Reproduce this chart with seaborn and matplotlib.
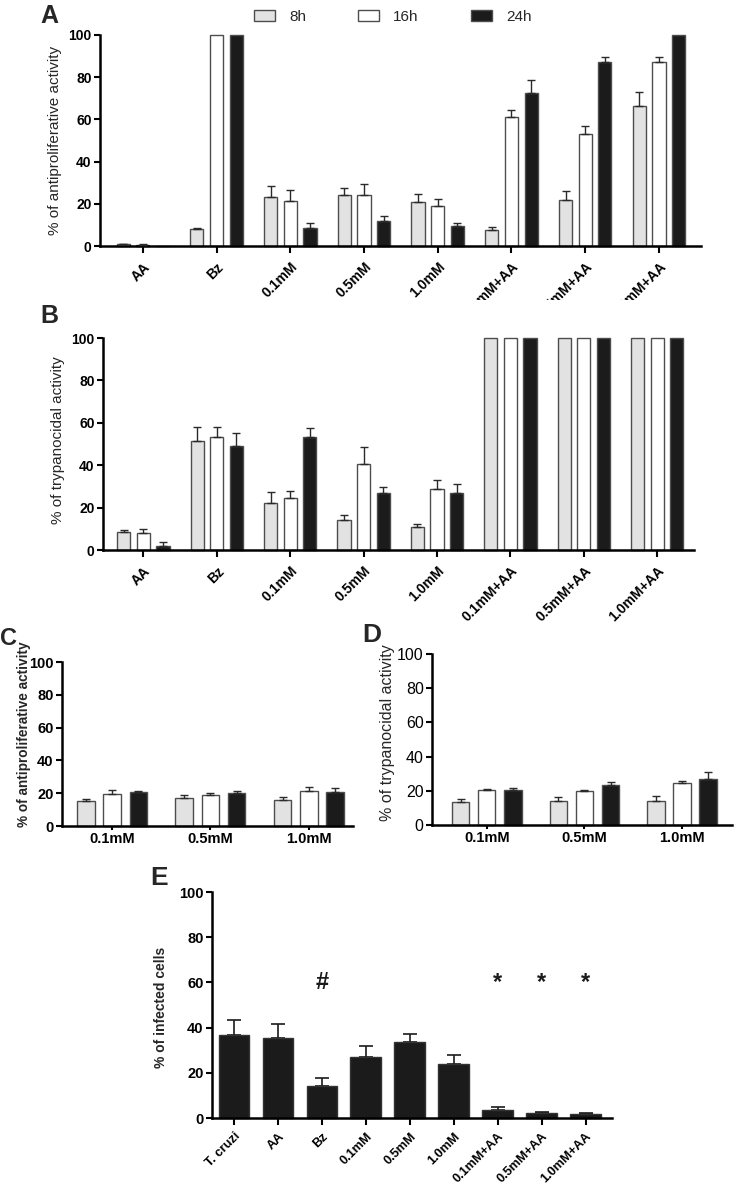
import numpy as np
import pandas as pd
import matplotlib
matplotlib.use('Agg')
import matplotlib.pyplot as plt
import seaborn as sns
from matplotlib.transforms import Bbox, TransformedBbox
from matplotlib.patches import Patch

sns.set_theme(style='ticks')
plt.rcParams['font.family'] = ['Liberation Sans', 'DejaVu Sans']

NARROW = ['Liberation Sans Narrow', 'Liberation Sans', 'DejaVu Sans']

times = ['8h', '16h', '24h']
cats_ab = ['AA', 'Bz', '0.1mM', '0.5mM', '1.0mM', '0.1mM+AA', '0.5mM+AA', '1.0mM+AA']

# Panel A: antiproliferative activity
a_8h = [0.8, 8.0, 23.0, 24.0, 21.0, 7.5, 22.0, 66.5]
a_16h = [0.7, 100.0, 21.5, 24.0, 19.0, 61.0, 53.0, 87.0]
a_24h = [0.0, 100.0, 8.5, 12.0, 9.5, 72.5, 87.0, 100.0]
a_8h_err = [0.3, 0.5, 5.5, 3.5, 3.6, 1.3, 4.2, 6.5]
a_16h_err = [0.2, 0.0, 5.0, 5.5, 3.3, 3.3, 3.8, 2.5]
a_24h_err = [0.0, 0.0, 2.2, 2.0, 1.2, 6.3, 2.8, 0.0]

# Panel B: trypanocidal activity
b_8h = [8.7, 51.3, 22.2, 14.2, 10.9, 100.0, 100.0, 100.0]
b_16h = [7.8, 53.2, 24.5, 40.7, 28.6, 100.0, 100.0, 100.0]
b_24h = [2.0, 49.0, 53.5, 26.7, 26.7, 100.0, 100.0, 100.0]
b_8h_err = [0.8, 6.8, 5.0, 2.3, 1.5, 0.0, 0.0, 0.0]
b_16h_err = [2.3, 5.0, 3.3, 8.0, 4.2, 0.0, 0.0, 0.0]
b_24h_err = [2.0, 6.2, 4.0, 3.2, 4.5, 0.0, 0.0, 0.0]

cats_cd = ['0.1mM', '0.5mM', '1.0mM']
# Panel C: antiproliferative activity
c_8h = [15.2, 17.0, 16.0]
c_16h = [19.7, 18.7, 21.5]
c_24h = [20.7, 20.0, 20.7]
c_8h_err = [1.0, 1.6, 1.4]
c_16h_err = [2.0, 1.6, 2.3]
c_24h_err = [0.8, 1.3, 2.5]

# Panel D: trypanocidal activity
d_8h = [13.5, 14.2, 14.2]
d_16h = [20.3, 20.0, 24.3]
d_24h = [20.2, 23.2, 26.7]
d_8h_err = [1.6, 2.4, 2.8]
d_16h_err = [1.0, 0.3, 1.5]
d_24h_err = [1.6, 2.0, 4.4]

# Panel E: infected cells
cats_e = ['T. cruzi', 'AA', 'Bz', '0.1mM', '0.5mM', '1.0mM', '0.1mM+AA', '0.5mM+AA', '1.0mM+AA']
e_vals = [36.8, 35.6, 14.3, 27.0, 33.7, 24.1, 3.6, 2.3, 1.8]
e_err = [6.7, 5.9, 3.3, 4.7, 3.6, 3.7, 1.4, 0.3, 0.3]
e_marks = ['', '', '#', '', '', '', '*', '*', '*']
e_mark_y = 60

palette = {'8h': '#e2e2e2', '16h': '#ffffff', '24h': '#1b1b1b'}
EDGE = '#4d4d4d'

W, H = 738, 1183
fig = plt.figure(figsize=(W / 100, H / 100), dpi=100)


def rect(l, r, t, b):
    return [l / W, 1 - b / H, (r - l) / W, (b - t) / H]


def style_axes(ax, yfont, yweight, ysize):
    sns.despine(ax=ax)
    for s in ['left', 'bottom']:
        ax.spines[s].set_linewidth(1.8)
        ax.spines[s].set_color('black')
    ax.tick_params(axis='both', direction='out', width=1.5, length=4, colors='black', pad=2)
    ax.set_ylim(0, 100)
    ax.set_yticks(range(0, 101, 20))
    for lab in ax.get_yticklabels():
        lab.set_fontfamily(yfont)
        lab.set_fontweight(yweight)
        lab.set_fontsize(ysize)


def grouped(ax, cats, vals, errs, width=0.8, gap=0.33):
    rows = []
    for t, v in zip(times, vals):
        for c, y in zip(cats, v):
            rows.append({'cat': c, 'time': t, 'val': y})
    df = pd.DataFrame(rows)
    sns.barplot(data=df, x='cat', y='val', hue='time', order=cats, hue_order=times,
                palette=palette, width=width, gap=gap, edgecolor=EDGE, linewidth=1.0,
                errorbar=None, legend=False, ax=ax, zorder=2)
    for cont, e in zip(ax.containers, errs):
        xs = np.array([b.get_x() + b.get_width() / 2 for b in cont])
        hs = np.array([b.get_height() for b in cont])
        e = np.array(e)
        m = e > 0
        ax.errorbar(xs[m], hs[m], yerr=[np.zeros(m.sum()), e[m]], fmt='none',
                    ecolor='#2a2a2a', elinewidth=1.0, capsize=3, capthick=1.0, zorder=3)
    for p in ax.patches:
        p.set_clip_on(False)
    ax.set_xlabel('')


# ---------- Panel A ----------
axA = fig.add_axes(rect(100, 701, 35, 246))
grouped(axA, cats_ab, [a_8h, a_16h, a_24h], [a_8h_err, a_16h_err, a_24h_err])
axA.set_xlim(-0.58, 7.57)
style_axes(axA, NARROW, 'bold', 10)
axA.set_ylabel('% of antiproliferative activity', fontsize=11)
axA.yaxis.set_label_coords(-0.063, 0.5)
axA.tick_params(axis='x', length=5, pad=5)
axA.set_xticks(range(len(cats_ab)))
axA.set_xticklabels(cats_ab, rotation=45, ha='right', va='top', rotation_mode='anchor',
                    fontweight='bold', fontsize=10, family=NARROW)
clip = TransformedBbox(Bbox([[0, 1 - 300 / H], [1, 1]]), fig.transFigure)
for lab in axA.get_xticklabels():
    lab.set_clip_box(clip)
    lab.set_clip_on(True)

# ---------- Panel B ----------
axB = fig.add_axes(rect(103, 694, 338, 550))
grouped(axB, cats_ab, [b_8h, b_16h, b_24h], [b_8h_err, b_16h_err, b_24h_err])
axB.set_xlim(-0.55, 7.5)
style_axes(axB, NARROW, 'bold', 10)
axB.set_ylabel('% of trypanocidal activity', fontsize=11)
axB.yaxis.set_label_coords(-0.064, 0.52)
axB.tick_params(axis='x', length=5, pad=5)
axB.set_xticks(range(len(cats_ab)))
axB.set_xticklabels(cats_ab, rotation=45, ha='right', va='top', rotation_mode='anchor',
                    fontweight='bold', fontsize=10, family=NARROW)

# ---------- Panel C ----------
axC = fig.add_axes(rect(62, 353, 662, 826))
grouped(axC, cats_cd, [c_8h, c_16h, c_24h], [c_8h_err, c_16h_err, c_24h_err])
axC.set_xlim(-0.51, 2.45)
style_axes(axC, ['Liberation Sans'], 'bold', 10.5)
axC.set_ylabel('% of antiproliferative activity', fontsize=9.8, fontweight='bold')
axC.yaxis.set_label_coords(-0.108, 0.56)
axC.tick_params(axis='x', length=3, pad=1)
axC.set_xticks(range(len(cats_cd)))
axC.set_xticklabels(cats_cd, fontweight='bold', fontsize=10.5)

# ---------- Panel D ----------
axD = fig.add_axes(rect(432, 732, 654, 825))
grouped(axD, cats_cd, [d_8h, d_16h, d_24h], [d_8h_err, d_16h_err, d_24h_err])
axD.set_xlim(-0.56, 2.51)
style_axes(axD, ['Liberation Sans'], 'normal', 11.5)
axD.set_ylabel('% of trypanocidal activity', fontsize=11.5)
axD.yaxis.set_label_coords(-0.123, 0.54)
axD.tick_params(axis='x', length=3, pad=1)
axD.set_xticks(range(len(cats_cd)))
axD.set_xticklabels(cats_cd, fontweight='bold', fontsize=10.5)

# ---------- Panel E ----------
axE = fig.add_axes(rect(212, 612, 892, 1118))
dfE = pd.DataFrame({'cat': cats_e, 'val': e_vals})
sns.barplot(data=dfE, x='cat', y='val', order=cats_e, color='#1b1b1b', saturation=1,
            width=0.7, edgecolor='#333333', linewidth=1.0, errorbar=None, ax=axE, zorder=2)
xsE = np.array([p.get_x() + p.get_width() / 2 for p in axE.patches])
hsE = np.array([p.get_height() for p in axE.patches])
axE.errorbar(xsE, hsE, yerr=[np.zeros(len(e_err)), e_err], fmt='none', ecolor='#1b1b1b',
             elinewidth=1.2, capsize=5, capthick=1.2, zorder=1)
for p in axE.patches:
    p.set_clip_on(False)
axE.set_xlim(-0.5, 8.6)
style_axes(axE, ['Liberation Sans'], 'bold', 10.5)
axE.set_xlabel('')
axE.set_ylabel('% of infected cells', fontsize=10, fontweight='bold')
axE.yaxis.set_label_coords(-0.11, 0.49)
axE.tick_params(axis='x', length=5, pad=4)
axE.set_xticks(range(len(cats_e)))
axE.set_xticklabels(cats_e, rotation=45, ha='right', va='top', rotation_mode='anchor',
                    fontweight='bold', fontsize=9.2)
for x, mk in zip(xsE, e_marks):
    if mk:
        axE.text(x, e_mark_y, mk, ha='center', va='center', fontsize=17, fontweight='bold',
                 color='#1b1b1b')

# ---------- Legend ----------
handles = [Patch(facecolor=palette[t], edgecolor=EDGE, linewidth=1.0) for t in times]
fig.legend(handles, times, loc='upper center', bbox_to_anchor=(0.532, 1.003), ncol=3,
           frameon=False, handlelength=1.4, handleheight=0.75, columnspacing=3.4,
           handletextpad=0.9, prop={'family': NARROW, 'size': 11})

# ---------- Panel letters ----------
for letter, x, yb, size in [('A', 40, 23, 18), ('B', 40, 323, 18), ('C', 0, 645, 17),
                            ('D', 362, 642, 19), ('E', 150, 885, 19)]:
    fig.text(x / W, 1 - yb / H, letter, fontsize=size, fontweight='bold', ha='left',
             va='baseline')

fig.savefig('out.png', dpi=100)
